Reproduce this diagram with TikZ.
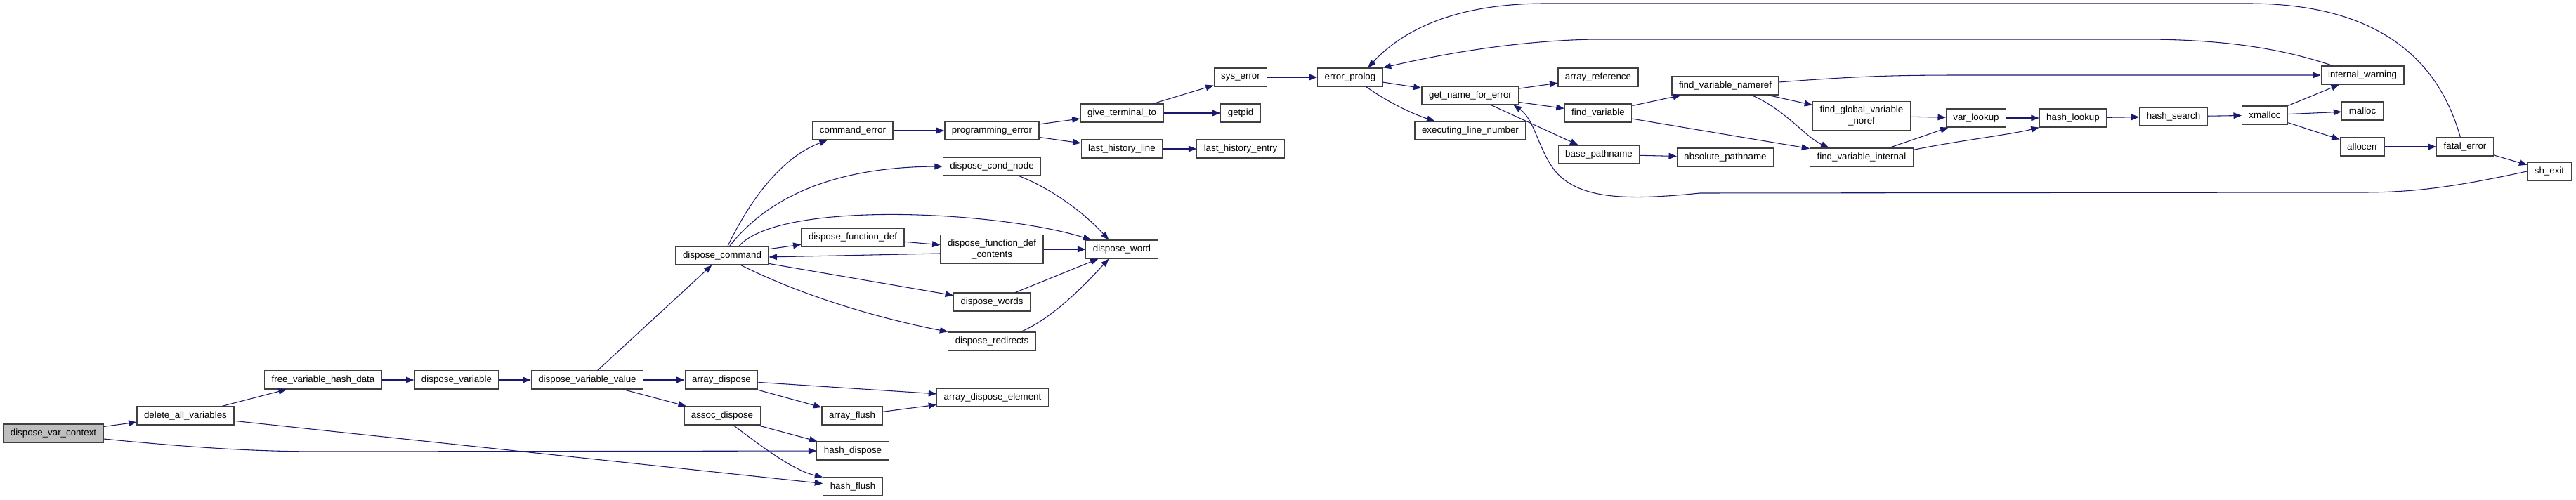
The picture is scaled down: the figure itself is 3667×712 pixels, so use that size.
\documentclass[tikz,border=0pt]{standalone}
\usepackage{fontspec}
\setmainfont{Liberation Sans}
\usetikzlibrary{arrows.meta}
\definecolor{cgedge}{HTML}{191970}
\definecolor{cgframe}{HTML}{404040}
\definecolor{cgroot}{HTML}{BFBFBF}
\tikzset{
  fn/.style    ={draw=cgframe, line width=0.9pt, fill=white, minimum height=19.5pt,
                 inner xsep=7.5pt, inner ysep=0pt, font=\fontsize{10}{12}\selectfont},
  fnroot/.style={fn, fill=cgroot},
  fntwo/.style ={fn, align=center, minimum height=30.75pt},
  cedge/.style ={-{Triangle[length=8.5pt,width=6.5pt]}, draw=cgedge, line width=0.8pt},
}

\begin{document}
\begin{tikzpicture}[x=0.75pt, y=-0.75pt]
  \useasboundingbox (0,0) rectangle (3667,712);

  % callers, left to right
  \node[fnroot] (dvc) at (76,617) {dispose\_var\_context};
  \node[fn] (dav) at (264,592) {delete\_all\_variables};
  \node[fn] (fvhd) at (460,541) {free\_variable\_hash\_data};
  \node[fn] (dv) at (650,541) {dispose\_variable};
  \node[fn] (dvv) at (836,541) {dispose\_variable\_value};
  \node[fn] (adisp) at (1027,541) {array\_dispose};
  \node[fn] (assoc) at (1028,592) {assoc\_dispose};
  \node[fn] (dcmd) at (1028,364) {dispose\_command};
  \node[fn] (cmderr) at (1214,186) {command\_error};
  \node[fn] (dfdef) at (1214,338) {dispose\_function\_def};
  \node[fn] (aflush) at (1213,592) {array\_flush};
  \node[fn] (hdisp) at (1214,642) {hash\_dispose};
  \node[fn] (hflush) at (1214,693) {hash\_flush};
  \node[fn] (progerr) at (1412,186) {programming\_error};
  \node[fn] (dcond) at (1412,237) {dispose\_cond\_node};
  \node[fntwo] (dfdc) at (1412,355) {dispose\_function\_def\\\_contents};
  \node[fn] (dwords) at (1412,430) {dispose\_words};
  \node[fn] (dredir) at (1412,486) {dispose\_redirects};
  \node[fn] (ade) at (1413,566) {array\_dispose\_element};
  \node[fn] (gtt) at (1597,161) {give\_terminal\_to};
  \node[fn] (lhl) at (1597,212) {last\_history\_line};
  \node[fn] (dword) at (1597,355) {dispose\_word};
  \node[fn] (syserr) at (1766,110) {sys\_error};
  \node[fn] (getpid) at (1766,161) {getpid};
  \node[fn] (lhe) at (1766,212) {last\_history\_entry};
  \node[fn] (eprolog) at (1922,110) {error\_prolog};
  \node[fn] (gnfe) at (2093,136) {get\_name\_for\_error};
  \node[fn] (eln) at (2093,186) {executing\_line\_number};
  \node[fn] (aref) at (2275,110) {array\_reference};
  \node[fn] (fvar) at (2275,161) {find\_variable};
  \node[fn] (bpath) at (2276,220) {base\_pathname};
  \node[fn] (fvn) at (2456,122) {find\_variable\_nameref};
  \node[fn] (apath) at (2456,224) {absolute\_pathname};
  \node[fntwo] (fgvn) at (2650,165) {find\_global\_variable\\\_noref};
  \node[fn] (fvi) at (2650,224) {find\_variable\_internal};
  \node[fn] (varl) at (2813,168) {var\_lookup};
  \node[fn] (hlookup) at (2951,168) {hash\_lookup};
  \node[fn] (hsearch) at (3094,166) {hash\_search};
  \node[fn] (xmalloc) at (3224,164) {xmalloc};
  \node[fn] (iwarn) at (3363,107) {internal\_warning};
  \node[fn] (malloc) at (3363,158) {malloc};
  \node[fn] (allocerr) at (3363,209) {allocerr};
  \node[fn] (fatal) at (3509,209) {fatal\_error};
  \node[fn] (shexit) at (3629,244) {sh\_exit};

  % straight calls
  \foreach \a/\b in {dvc/dav, dav/fvhd, dav/hflush, fvhd/dv, dv/dvv, dvv/dcmd,
      dvv/adisp, dvv/assoc, adisp/ade, adisp/aflush, aflush/ade, assoc/hdisp,
      dcmd/dfdef, dcmd/dwords, dfdef/dfdc, dfdc/dword, dwords/dword,
      cmderr/progerr, progerr/gtt, progerr/lhl, gtt/syserr, gtt/getpid, lhl/lhe,
      syserr/eprolog, eprolog/gnfe, gnfe/aref, gnfe/fvar, gnfe/bpath, bpath/apath,
      fvar/fvn, fvar/fvi, fvn/fgvn, fgvn/varl, fvi/varl, varl/hlookup,
      hlookup/hsearch, hsearch/xmalloc, xmalloc/iwarn, xmalloc/malloc,
      xmalloc/allocerr, allocerr/fatal, fatal/shexit} {
    \draw[cedge] (\a) -- (\b);
  }

  % curved calls
  \draw[cedge] ([yshift=-6pt]dvc.east) .. controls (300,640) and (380,643) .. (460,643) -- (hdisp);
  \draw[cedge] ([xshift=12pt]assoc.south) .. controls (1090,640) and (1130,670) .. (hflush.north west);
  \draw[cedge] ([xshift=6pt]dcmd.north) .. controls (1065,290) and (1110,225) .. (cmderr);
  \draw[cedge] ([xshift=8pt]dcmd.north) .. controls (1090,285) and (1180,238) .. (dcond.west);
  \draw[cedge] ([xshift=18pt]dcmd.north) .. controls (1110,285) and (1420,300) .. ([xshift=6pt]dword.north west);
  \draw[cedge] ([xshift=20pt]dcmd.south) .. controls (1150,425) and (1260,455) .. (dredir.north west);
  \draw[cedge] ([yshift=-4.5pt]dfdc.west) -- ([yshift=-1.5pt]dcmd.east);
  \draw[cedge] ([xshift=29pt]dcond.south) .. controls (1500,270) and (1545,305) .. ([xshift=-14pt]dword.north);
  \draw[cedge] ([xshift=31pt]dredir.north) .. controls (1500,452) and (1545,405) .. ([xshift=-14pt]dword.south);
  \draw[cedge] ([xshift=17pt]eprolog.south) .. controls (1975,145) and (2010,162) .. ([xshift=-38pt]eln.north);
  \draw[cedge] ([xshift=28pt]fvn.south) .. controls (2540,155) and (2570,195) .. ([xshift=-35pt]fvi.north);
  \draw[cedge] ([yshift=3.75pt]fvn.east) .. controls (2650,108) and (2700,107) .. (2800,107) -- (iwarn.west);
  \draw[cedge] ([yshift=8pt]fvi.east) .. controls (2790,200) and (2860,192) .. (hlookup.south west);

  % calls back to the error reporters
  \draw[cedge] ([xshift=-5pt]fatal.north) .. controls (3470,80) and (3380,5) .. (3200,5) -- (2200,5)
    .. controls (2060,5) and (1990,50) .. ([xshift=19pt]eprolog.north);
  \draw[cedge] ([xshift=-32pt]iwarn.north) .. controls (3250,70) and (3170,56) .. (3050,56) -- (2270,56)
    .. controls (2150,58) and (2040,80) .. (eprolog.north east);
  \draw[cedge] (shexit.west) .. controls (3500,265) and (3440,274) .. (3364,274) -- (2420,275)
    .. controls (2320,285) and (2250,285) .. (2215,245)
    .. controls (2190,215) and (2185,170) .. ([xshift=-6pt]gnfe.south east);
\end{tikzpicture}
\end{document}
